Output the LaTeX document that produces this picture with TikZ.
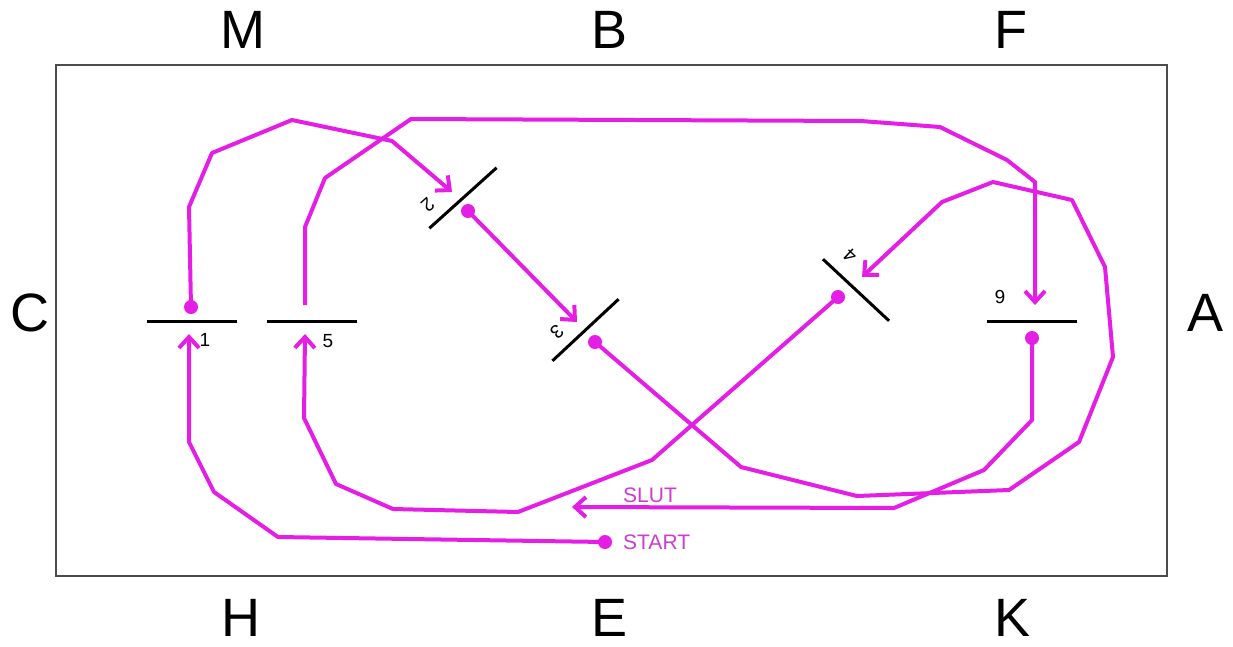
\documentclass[tikz,border=0pt]{standalone}
\usepackage{fontspec}
\setmainfont{Liberation Sans}
\usetikzlibrary{arrows.meta}
\definecolor{mag}{RGB}{228,30,228}
\definecolor{magtext}{RGB}{205,60,205}
\begin{document}
\begin{tikzpicture}[x=1pt,y=-1pt,
  conn/.style={draw=mag, line width=4pt, line join=round},
  arr/.style={conn, -{Straight Barb[length=11pt,width=20pt]}},
  dot/.style={circle, fill=mag, inner sep=0pt, minimum size=14pt},
  cone/.style={inner sep=0pt, minimum width=90pt, minimum height=0pt},
  bar/.style={line width=3pt, black},
  frame/.style={draw=black!70, line width=1.3pt},
  side/.style={font=\fontsize{54}{58}\selectfont, inner sep=0pt},
  num/.style={font=\fontsize{19}{21}\selectfont, inner sep=0pt},
  tag/.style={font=\fontsize{21}{23}\selectfont, text=magtext, anchor=west, inner sep=0pt},
]
\useasboundingbox (0,0) rectangle (1233,646);
\draw[frame] (56,65) rectangle (1167,576);

% side letters
\node[side] (M) at (243,30) {M};
\node[side] (B) at (609,30) {B};
\node[side] (F) at (1011,30) {F};
\node[side] (C) at (30,313) {C};
\node[side] (A) at (1205,313) {A};
\node[side] (H) at (241,618) {H};
\node[side] (E) at (609,618) {E};
\node[side] (K) at (1012,618) {K};

% cones
\node[cone] (c1) at (192,321) {};
\node[cone] (c5) at (312,321) {};
\node[cone] (c6) at (1032,321) {};
\node[cone, rotate=-138] (c2) at (463,198) {};
\node[cone, rotate=-137] (c3) at (585.5,330) {};
\node[cone, rotate=137] (c4) at (856,290) {};
\foreach \c in {c1,c2,c3,c4,c5,c6} \draw[bar] (\c.west) -- (\c.east);

% cone numbers
\node[num] (n1) at (205,340) {1};
\node[num] (n5) at (328,341) {5};
\node[num, rotate=-138] (n2) at (428,205) {2};
\node[num, rotate=-137] (n3) at (557,332) {3};
\node[num, rotate=137] (n4) at (850,256) {4};
\node[num, rotate=180] (n6) at (1000,297) {6};

% START -> 1
\node[dot] (start) at (605,542) {};
\node[tag] (starttxt) at (623,542) {START};
\coordinate (in1) at (189,334);
\draw[arr] (start.center) -- (278,537) -- (214,492) -- (189,442) -- (in1);

% 1 -> 2
\node[dot] (o1) at (191,307) {};
\coordinate (in2) at (452,192);
\draw[arr] (o1.center) -- (189,207) -- (212,153) -- (292,120) -- (392,141) -- (in2);

% 2 -> 3
\node[dot] (o2) at (468,211) {};
\coordinate (in3) at (577,322);
\draw[arr] (o2.center) -- (in3);

% 3 -> 4
\node[dot] (o3) at (595,342) {};
\coordinate (in4) at (862,277);
\draw[arr] (o3.center) -- (741,467) -- (857,496) -- (1009,490) -- (1079,442) -- (1113,357) -- (1105,267) -- (1072,200) -- (993,182) -- (942,202) -- (in4);

% 4 -> 5
\node[dot] (o4) at (838,297) {};
\coordinate (in5) at (305,334);
\draw[arr] (o4.center) -- (652,460) -- (518,512) -- (393,509) -- (336,484) -- (304,418) -- (in5);

% 5 -> 6
\coordinate (o5) at (305,305);
\coordinate (in6) at (1035,305);
\draw[arr] (o5) -- (305,227) -- (325,178) -- (411,119) -- (861,121) -- (940,127) -- (1007,160) -- (1035,182) -- (in6);

% 6 -> SLUT
\node[dot] (o6) at (1032,338) {};
\coordinate (slut) at (572,507);
\draw[arr] (o6.center) -- (1032,420) -- (984,470) -- (894,508) -- (slut);
\node[tag] (sluttxt) at (623,495) {SLUT};
\end{tikzpicture}
\end{document}
